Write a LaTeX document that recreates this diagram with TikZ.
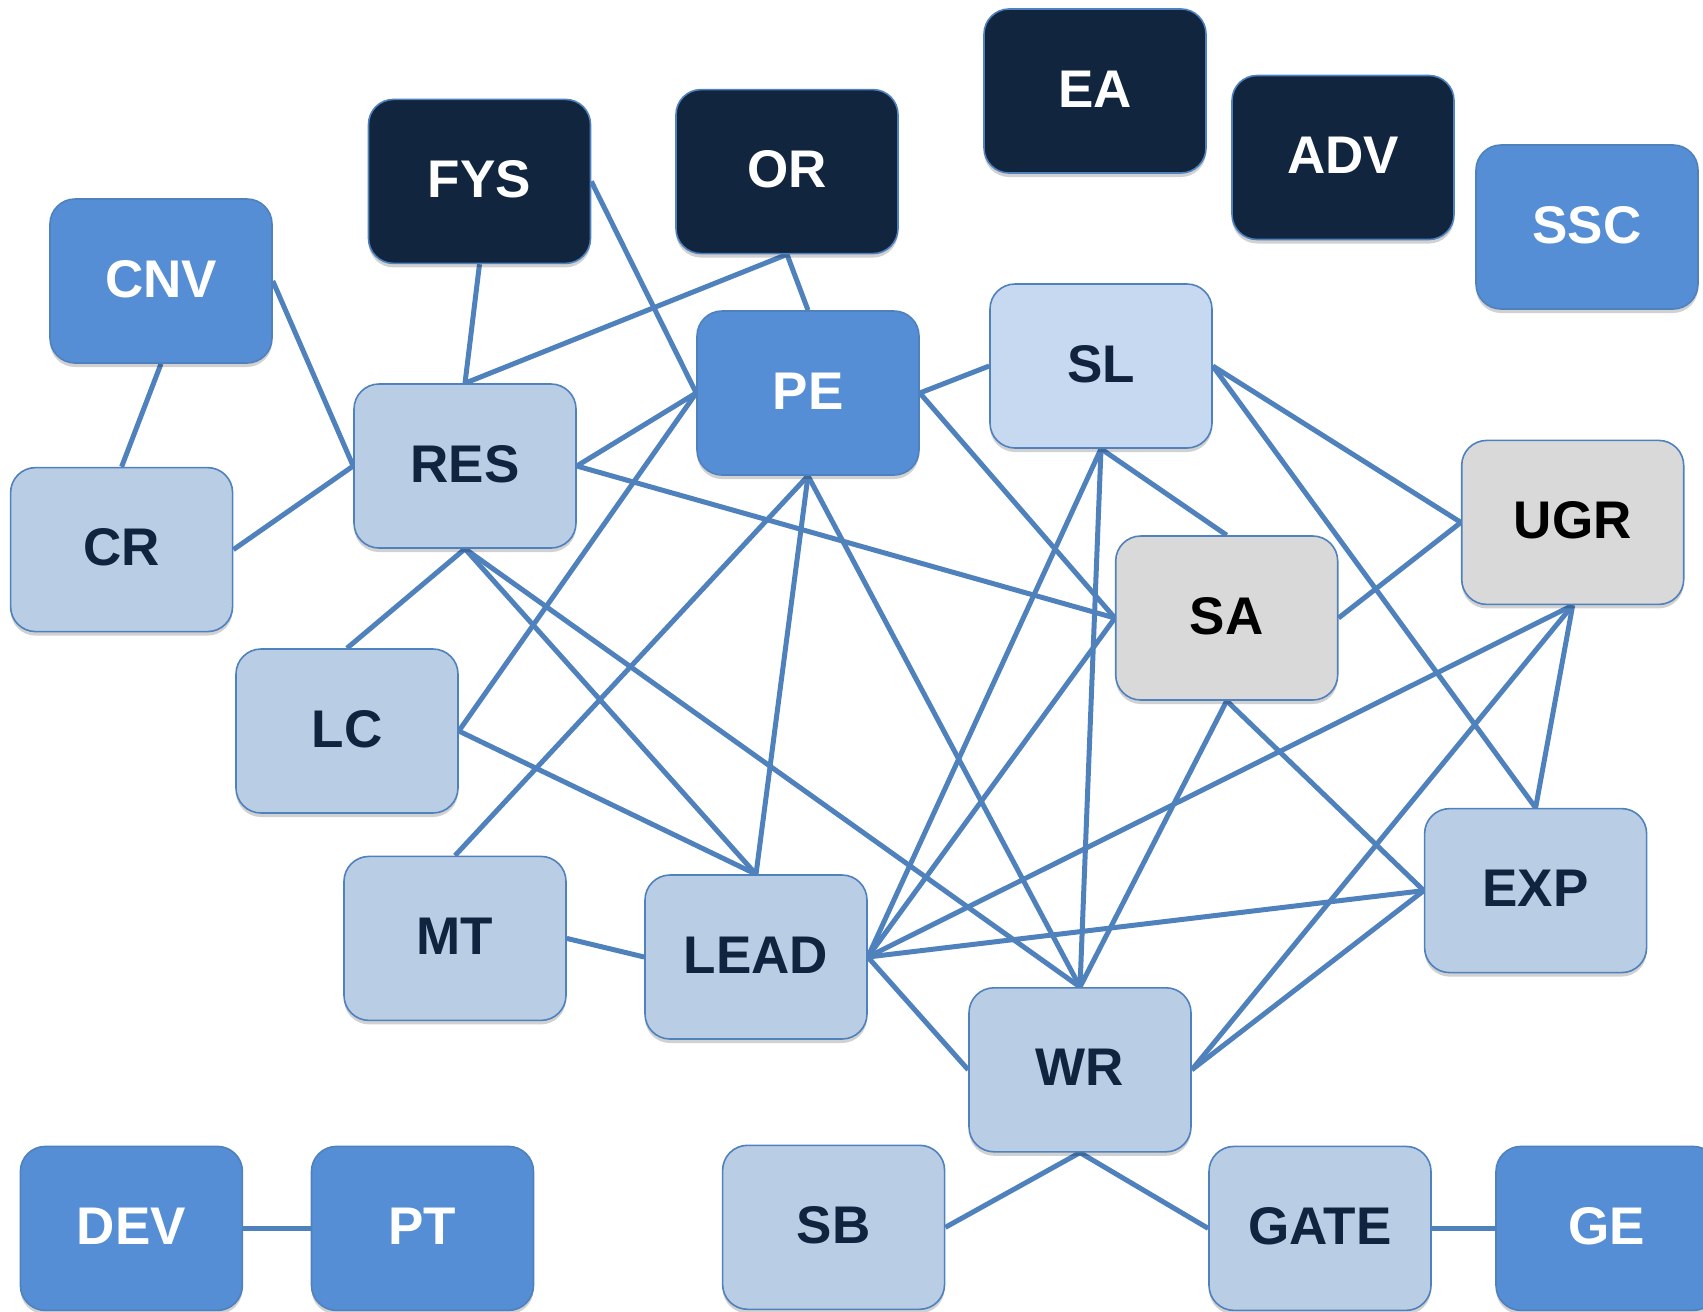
\documentclass[tikz,border=0pt]{standalone}
\usepackage{fontspec}
\setmainfont{Liberation Sans}
\usetikzlibrary{shadows,backgrounds}
\definecolor{navy}{HTML}{12253F}
\definecolor{midblue}{HTML}{558ED5}
\definecolor{lightblue}{HTML}{B9CDE5}
\definecolor{paleblue}{HTML}{C6D9F1}
\definecolor{greybox}{HTML}{D9D9D9}
\definecolor{edgeblue}{HTML}{4F81BD}
\definecolor{darktext}{HTML}{10243F}
\tikzset{
  box/.style={rectangle, rounded corners=25pt, draw=edgeblue, line width=1.6pt,
    minimum width=222pt, minimum height=164pt, inner sep=0pt,
    text height=38pt, text depth=6pt,
    font=\fontsize{53}{53}\selectfont\bfseries,
    drop shadow={shadow xshift=0pt, shadow yshift=-4pt, opacity=0.18, fill=black}},
  darkbox/.style={box, fill=navy, text=white},
  midbox/.style={box, fill=midblue, text=white},
  lightbox/.style={box, fill=lightblue, text=darktext},
  palebox/.style={box, fill=paleblue, text=darktext},
  greyb/.style={box, fill=greybox, text=black},
  link/.style={draw=edgeblue, line width=5pt}
}
\begin{document}
\begin{tikzpicture}[x=1pt, y=-1pt]
\useasboundingbox (0,0) rectangle (1703,1312);
\node[darkbox] (EA) at (1095,91) {EA};
\node[darkbox] (ADV) at (1343,157.5) {ADV};
\node[midbox] (SSC) at (1587,227) {SSC};
\node[darkbox] (FYS) at (479.5,181.4) {FYS};
\node[darkbox] (OR) at (787,171.6) {OR};
\node[midbox] (CNV) at (161,281) {CNV};
\node[midbox] (PE) at (808,393) {PE};
\node[palebox] (SL) at (1101,366) {SL};
\node[lightbox] (RES) at (465,466) {RES};
\node[lightbox] (CR) at (121.6,549.6) {CR};
\node[greyb] (UGR) at (1572.7,522.4) {UGR};
\node[greyb] (SA) at (1226.7,618) {SA};
\node[lightbox] (LC) at (347,731) {LC};
\node[lightbox] (MT) at (455,938.4) {MT};
\node[lightbox] (LEAD) at (756,957) {LEAD};
\node[lightbox] (EXP) at (1535.6,890.6) {EXP};
\node[lightbox] (WR) at (1080,1069.8) {WR};
\node[midbox] (DEV) at (131.4,1228.4) {DEV};
\node[midbox] (PT) at (422.5,1228.4) {PT};
\node[lightbox] (SB) at (833.6,1227.3) {SB};
\node[lightbox] (GATE) at (1320,1228.4) {GATE};
\node[midbox] (GE) at (1607,1228.4) {GE};
\begin{scope}[on background layer]
\path[link] (CNV.south) -- (CR.north);
\path[link] (CNV.east) -- (RES.west);
\path[link] (CR.east) -- (RES.west);
\path[link] (FYS.south) -- (RES.north);
\path[link] (FYS.east) -- (PE.west);
\path[link] (OR.south) -- (RES.north);
\path[link] (OR.south) -- (PE.north);
\path[link] (RES.east) -- (PE.west);
\path[link] (RES.east) -- (SA.west);
\path[link] (RES.south) -- (LC.north);
\path[link] (RES.south) -- (LEAD.north);
\path[link] (RES.south) -- (WR.north);
\path[link] (PE.west) -- (LC.east);
\path[link] (PE.south) -- (MT.north);
\path[link] (PE.south) -- (LEAD.north);
\path[link] (PE.south) -- (WR.north);
\path[link] (PE.east) -- (SL.west);
\path[link] (PE.east) -- (SA.west);
\path[link] (LC.east) -- (LEAD.north);
\path[link] (MT.east) -- (LEAD.west);
\path[link] (SL.south) -- (SA.north);
\path[link] (SL.south) -- (LEAD.east);
\path[link] (SL.south) -- (WR.north);
\path[link] (SL.east) -- (UGR.west);
\path[link] (SL.east) -- (EXP.north);
\path[link] (SA.west) -- (LEAD.east);
\path[link] (SA.east) -- (UGR.west);
\path[link] (SA.south) -- (WR.north);
\path[link] (SA.south) -- (EXP.west);
\path[link] (UGR.south) -- (LEAD.east);
\path[link] (UGR.south) -- (WR.east);
\path[link] (UGR.south) -- (EXP.north);
\path[link] (EXP.west) -- (LEAD.east);
\path[link] (EXP.west) -- (WR.east);
\path[link] (LEAD.east) -- (WR.west);
\path[link] (WR.south) -- (SB.east);
\path[link] (WR.south) -- (GATE.west);
\path[link] (DEV.east) -- (PT.west);
\path[link] (GATE.east) -- (GE.west);
\end{scope}
\end{tikzpicture}
\end{document}
